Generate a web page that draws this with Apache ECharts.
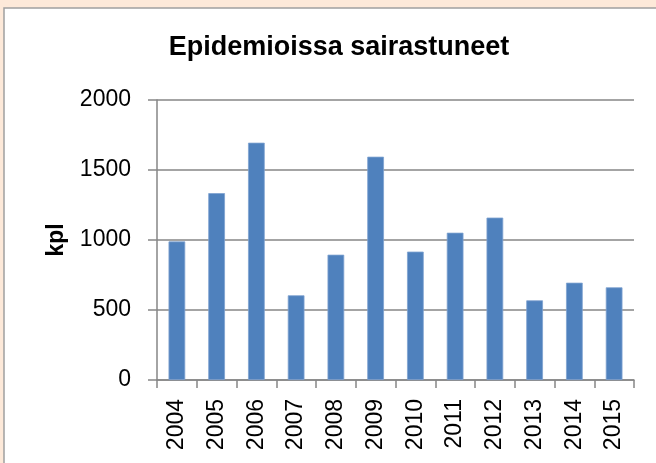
<!DOCTYPE html>
<html>
<head>
<meta charset="utf-8">
<script src="https://cdn.jsdelivr.net/npm/echarts@6/dist/echarts.min.js"></script>
<style>
html,body{margin:0;padding:0;background:#FDE9D9;}
#chart{width:656px;height:463px;}
</style>
</head>
<body>
<div id="chart"></div>
<script>
const titleText = 'Epidemioissa sairastuneet';
const yAxisName = 'kpl';
const years = ['2004','2005','2006','2007','2008','2009','2010','2011','2012','2013','2014','2015'];
const values = [990, 1335, 1695, 605, 895, 1595, 917, 1052, 1160, 569, 695, 662];
const yTicks = [0, 500, 1000, 1500, 2000];

const chart = echarts.init(document.getElementById('chart'));
const FONT = 'Liberation Sans, Arial, sans-serif';
chart.setOption({
  backgroundColor: '#FDE9D9',
  animation: false,
  graphic: [{
    type: 'rect',
    z: -10,
    shape: {x: 4, y: 8, width: 670, height: 480},
    style: {fill: '#ffffff', stroke: '#A0A0A0', lineWidth: 1.5}
  }],
  title: {
    text: titleText,
    left: 334,
    top: 29,
    textAlign: 'center',
    textStyle: {fontFamily: FONT, fontWeight: 'bold', fontSize: 27, color: '#000'}
  },
  grid: {left: 157, right: 22, top: 100, bottom: 83, containLabel: false},
  xAxis: {
    type: 'category',
    data: years,
    boundaryGap: true,
    axisLine: {show: true, lineStyle: {color: '#868686', width: 1.5}},
    axisTick: {show: true, length: 8, alignWithLabel: false, lineStyle: {color: '#868686', width: 1.5}},
    axisLabel: {rotate: 90, margin: 19, fontFamily: FONT, fontSize: 23, color: '#000', interval: 0}
  },
  yAxis: {
    type: 'value',
    min: yTicks[0],
    max: yTicks[yTicks.length - 1],
    interval: 500,
    name: yAxisName,
    nameLocation: 'middle',
    nameRotate: 90,
    nameGap: 89,
    nameTextStyle: {fontFamily: FONT, fontWeight: 'bold', fontSize: 23, color: '#000'},
    axisLine: {show: true, lineStyle: {color: '#868686', width: 1.5}},
    axisTick: {show: true, length: 9, lineStyle: {color: '#868686', width: 1.5}},
    axisLabel: {margin: 26, fontFamily: FONT, fontSize: 23, color: '#000', formatter: function (v) { return String(v); }},
    splitLine: {show: true, lineStyle: {color: '#868686', width: 1.5}}
  },
  series: [{
    type: 'bar',
    data: values,
    barWidth: '42%',
    itemStyle: {color: '#4F81BD', borderColor: '#7FA2D0', borderWidth: 0.8}
  }]
});
</script>
</body>
</html>
